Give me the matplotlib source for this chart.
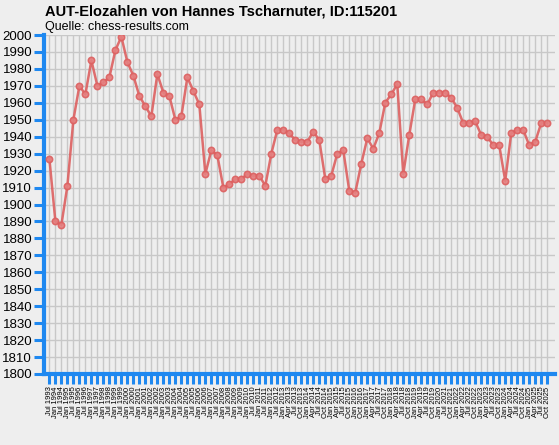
import numpy as np
import matplotlib
matplotlib.use("Agg")
import matplotlib.pyplot as plt

# Elo-Werte
elo = [1927, 1890, 1888, 1911, 1950, 1970, 1965, 1985, 1970, 1972,
       1975, 1991, 1999, 1984, 1976, 1964, 1958, 1952, 1977, 1966,
       1964, 1950, 1952, 1975, 1967, 1959, 1918, 1932, 1929, 1910,
       1912, 1915, 1915, 1918, 1917, 1917, 1911, 1930, 1944, 1944,
       1942, 1938, 1937, 1937, 1943, 1938, 1915, 1917, 1930, 1932,
       1908, 1907, 1924, 1939, 1933, 1942, 1960, 1965, 1971, 1918,
       1941, 1962, 1962, 1959, 1966, 1966, 1966, 1963, 1957, 1948,
       1948, 1949, 1941, 1940, 1935, 1935, 1914, 1942, 1944, 1944,
       1935, 1937, 1948, 1948]

daten = ["Jul 1993", "Jan 1994", "Jul 1994", "Jan 1995", "Jul 1995", "Jan 1996",
         "Jul 1996", "Jan 1997", "Jul 1997", "Jan 1998", "Jul 1998", "Jan 1999",
         "Jul 1999", "Jan 2000", "Jul 2000", "Jan 2001", "Jul 2001", "Jan 2002",
         "Jul 2002", "Jan 2003", "Jul 2003", "Jan 2004", "Jul 2004", "Jan 2005",
         "Jul 2005", "Jan 2006", "Jul 2006", "Jan 2007", "Jul 2007", "Jan 2008",
         "Jul 2008", "Jan 2009", "Jul 2009", "Jan 2010", "Jul 2010", "Jan 2011",
         "Jul 2011", "Jan 2012", "Jul 2012", "Jan 2013", "Apr 2013", "Jul 2013",
         "Oct 2013", "Jan 2014", "Apr 2014", "Jul 2014", "Oct 2014", "Jan 2015",
         "Apr 2015", "Jul 2015", "Oct 2015", "Jan 2016", "Oct 2016", "Jan 2017",
         "Apr 2017", "Jul 2017", "Oct 2017", "Jan 2018", "Apr 2018", "Jul 2018",
         "Oct 2018", "Jan 2019", "Apr 2019", "Jul 2019", "Oct 2019", "Jan 2020",
         "Jul 2021", "Oct 2021", "Jan 2022", "Apr 2022", "Jul 2022", "Oct 2022",
         "Jan 2023", "Apr 2023", "Jul 2023", "Oct 2023", "Jan 2024", "Apr 2024",
         "Jul 2024", "Oct 2024", "Jan 2025", "Apr 2025", "Jul 2025", "Oct 2025"]

titel = "AUT-Elozahlen von Hannes Tscharnuter, ID:115201"
quelle = "Quelle: chess-results.com"

bg = "#EEEEEE"
blau = "#1E88F0"
rot = "#DD6060"

plt.rcParams['font.family'] = ['Liberation Sans', 'DejaVu Sans']

fig = plt.figure(figsize=(5.59, 4.45), dpi=100, facecolor=bg)
W, H = 559, 445
ax = fig.add_axes([44 / W, (H - 374) / H, (555 - 44) / W, (374 - 35) / H])
ax.set_facecolor(bg)

x = np.arange(len(elo))
ax.plot(x, elo, color=rot, lw=1.8, alpha=0.9, zorder=3,
        marker='o', ms=4.5, mfc="#E58080", mec=rot, mew=1.2)

ax.set_xlim(-0.9, len(elo) - 1 + 1.3)
ax.set_ylim(1800, 2000)
ax.set_yticks(np.arange(1800, 2001, 10))
ax.set_xticks(x)
ax.set_xticklabels(daten, rotation=90, fontsize=5.5)
ax.tick_params(axis='y', labelsize=9.5, length=7, width=2.2, color=blau, pad=1.5)
ax.tick_params(axis='x', length=7, width=2.2, color=blau, pad=2)

ax.grid(True, color="#C8C8C8", lw=1.0, zorder=0)
ax.set_axisbelow(True)
for s in ['top', 'right']:
    ax.spines[s].set_visible(False)
for s in ['left', 'bottom']:
    ax.spines[s].set_color(blau)
    ax.spines[s].set_linewidth(3)

fig.text(45 / W, 1 - 12 / H, titel, fontsize=10.5, fontweight='bold', va='center', ha='left')
fig.text(45 / W, 1 - 27 / H, quelle, fontsize=9, va='center', ha='left')

fig.savefig("out.png", dpi=100, facecolor=bg)
